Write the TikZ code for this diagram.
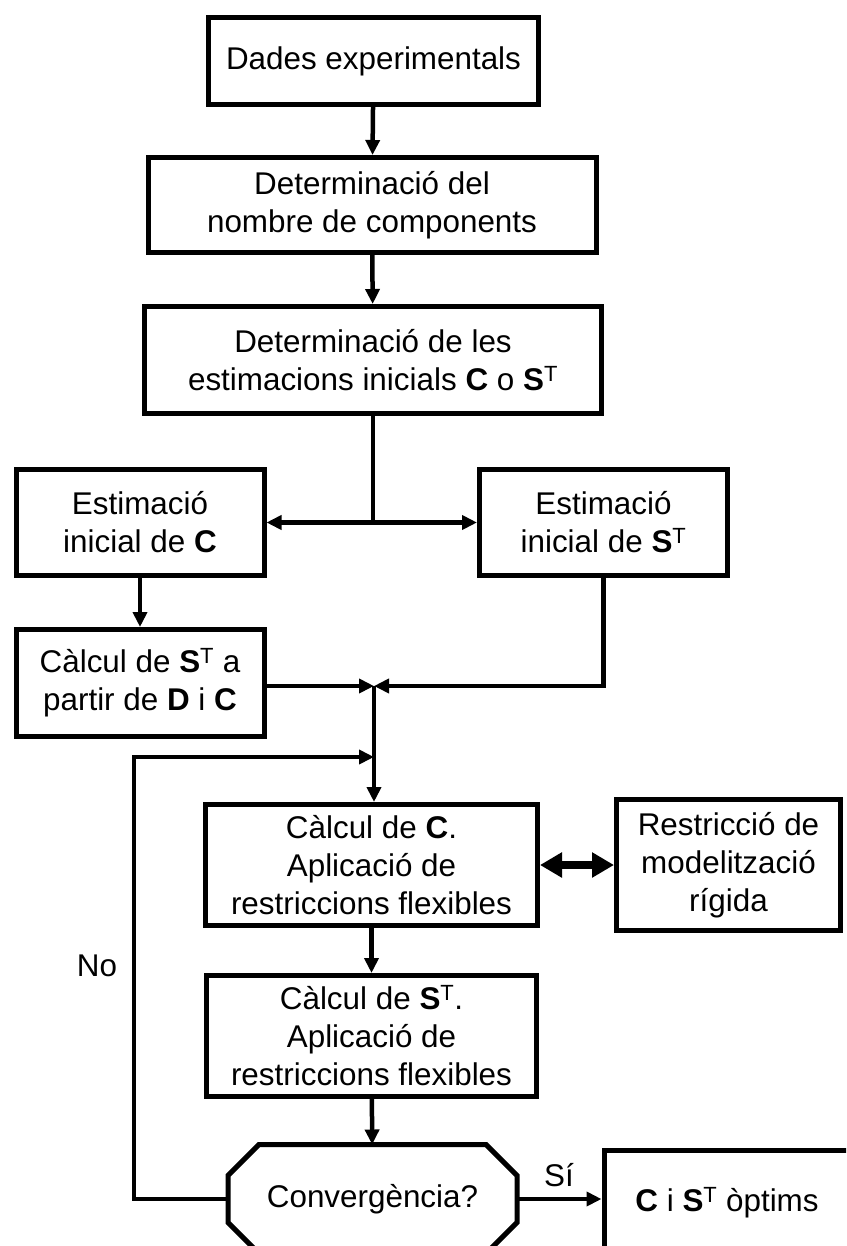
\documentclass[tikz,border=0pt]{standalone}
\usepackage{fontspec}
\setmainfont{Liberation Sans}
\usepackage{tikz}
\usetikzlibrary{arrows.meta,positioning,calc}
\newcommand{\ST}{\textbf{S}\textsuperscript{T}}
\newcommand{\mC}{\textbf{C}}
\newcommand{\flowfont}{\fontsize{31.4}{38}\selectfont}

\begin{document}
\begin{tikzpicture}[x=1pt,y=-1pt,>={Triangle[length=15pt,width=14pt]},
 box/.style={draw,line width=5pt,align=center,inner sep=0pt,font=\flowfont},
 conn/.style={line width=4.5pt},
 lbl/.style={font=\flowfont}]
\useasboundingbox (0,0) rectangle (846,1246);
\clip (0,0) rectangle (846,1246);
\node[box,minimum width=330pt,minimum height=87pt] (dades) at (373.5,61) {Dades experimentals};
\node[box,minimum width=448pt,minimum height=95pt] (ncomp) at (372,205) {Determinació del\\nombre de components};
\node[box,minimum width=457pt,minimum height=107pt] (estim) at (373,360) {Determinació de les\\estimacions inicials \mC{} o \ST};
\node[box,minimum width=248pt,minimum height=106pt] (estC) at (140,522.5) {Estimació\\inicial de \mC};
\node[box,minimum width=248pt,minimum height=106pt] (estS) at (603.5,522.5) {Estimació\\inicial de \ST};
\node[box,minimum width=248pt,minimum height=107pt] (calcST) at (140,683) {Càlcul de \ST{} a\\partir de \textbf{D} i \mC};
\node[box,minimum width=332pt,minimum height=121pt] (calcC) at (371.5,865) {Càlcul de \mC.\\Aplicació de\\restriccions flexibles};
\node[box,minimum width=224pt,minimum height=131pt] (rigid) at (728.5,865) {Restricció de\\modelització\\rígida};
\node[box,minimum width=330pt,minimum height=121pt] (calcS) at (371.5,1036) {Càlcul de \ST.\\Aplicació de\\restriccions flexibles};
\node[box,draw=none,minimum width=284pt,minimum height=104pt] (conv) at (372.5,1199) {Convergència?};
\node[box,minimum width=246pt,minimum height=104pt] (optim) at (727,1202.5) {\mC{} i \ST{} òptims};
% octagon round the test
\draw[line width=5pt,line join=miter]
 ([xshift=31pt]conv.north west) -- ([xshift=-31pt]conv.north east)
 -- ([yshift=-31pt]conv.north east) -- ([yshift=31pt]conv.south east)
 -- ([xshift=-31pt]conv.south east) -- ([xshift=31pt]conv.south west)
 -- ([yshift=31pt]conv.south west) -- ([yshift=-31pt]conv.north west) -- cycle;
\coordinate (split) at (estim.south |- estC.east);
\coordinate (merge) at (374,686);
\coordinate (back) at (134,757);
\draw[conn,->] (dades) -- (ncomp);
\draw[conn,->] (ncomp) -- (estim);
\draw[conn] (estim) -- (split);
\draw[conn,->] (split) -- (estC);
\draw[conn,->] (split) -- (estS);
\draw[conn,->] (estC) -- (calcST);
\draw[conn,->] (calcST.east |- merge) -- (merge);
\draw[conn,->] (estS) |- (merge);
\draw[conn,->] (merge) -- (merge |- calcC.north);
\draw[line width=8pt,{Triangle[length=22pt,width=24pt]}-{Triangle[length=22pt,width=24pt]}] (calcC) -- (rigid);
\draw[conn,->] (calcC) -- (calcS);
\draw[conn,->] (calcS) -- (conv);
\draw[conn,->] (conv.east) -- (conv.east -| optim.west);
\draw[conn,->] (conv.west) -| (back) -- (back -| merge);
\node[lbl] (si) at (559,1175) {Sí};
\node[lbl] (no) at (97,966) {No};
\end{tikzpicture}
\end{document}
